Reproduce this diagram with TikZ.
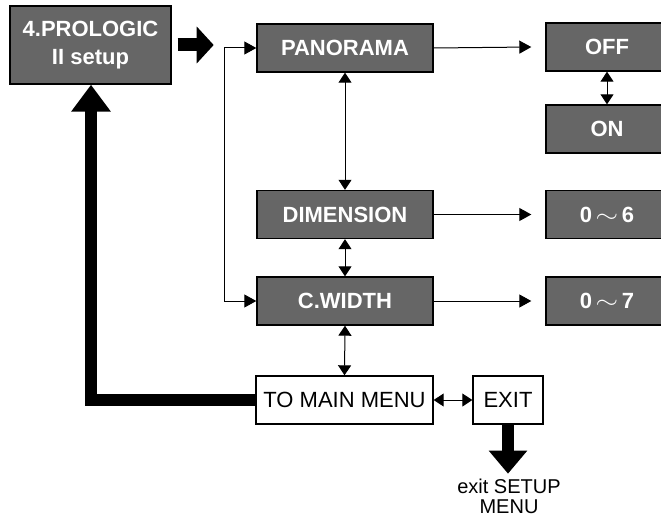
\documentclass[tikz,border=0pt]{standalone}
\usepackage{fontspec}
\setmainfont{Liberation Sans}
\usetikzlibrary{arrows.meta, positioning, calc}
\definecolor{BoxGray}{HTML}{666666}
\newcommand{\wave}{\,\scalebox{1.4}[1.1]{$\sim$}\,}

\begin{document}
\begin{tikzpicture}[
          x=1pt, y=-1pt,
          menubox/.style={draw=black, line width=1.4pt, fill=BoxGray, text=white, inner sep=0pt,
            font=\bfseries\fontsize{22}{28}\selectfont, align=center, minimum width=176pt, minimum height=48pt},
          valbox/.style={menubox, minimum width=122pt},
          plainbox/.style={draw=black, line width=1.4pt, fill=white, inner sep=0pt,
            font=\fontsize{22}{25}\selectfont, minimum height=48pt},
          arr/.style={-{Triangle[length=12pt, width=13pt]}, line width=1pt},
          dbl/.style={{Triangle[length=10pt, width=13pt]}-{Triangle[length=10pt, width=13pt]}, line width=1pt},
          bigarr/.style={line width=13pt, line join=miter}
        ]
          \useasboundingbox (0,0) rectangle (661,519);
          \clip (0,0) rectangle (661,519);

          % main entry
          \node[menubox, minimum width=161pt, minimum height=78pt] (pro) at (90.5,45) {4.PROLOGIC\\II setup};
          \draw[bigarr, -{Triangle[length=17pt, width=36pt]}] ([xshift=6pt]pro.east) -- ++(36,0);

          % menu column
          \node[menubox] (pano) at (345,48) {PANORAMA};
          \node[menubox] (dim) at (345,214.5) {DIMENSION};
          \node[menubox] (cw) at (345,301) {C.WIDTH};
          \draw[dbl] (pano.south) -- (dim.north);
          \draw[dbl] (dim.south) -- (cw.north);

          % feed line
          \coordinate (ftop) at (224,48);
          \coordinate (fbot) at (224,301);
          \draw[arr] (ftop) -- (pano.west);
          \draw[arr] (ftop) -- (fbot) -- (cw.west);

          % value column
          \node[valbox] (off) at (607,47) {OFF};
          \node[valbox] (on) at (607,129) {ON};
          \node[valbox] (r6) at (607,214.5) {0\wave6};
          \node[valbox] (r7) at (607,301) {0\wave7};
          \draw[dbl] (off.south) -- (on.north);
          \draw[arr] (pano.east) -- ([xshift=-14pt]off.west);
          \draw[arr] (dim.east) -- ([xshift=-14pt]r6.west);
          \draw[arr] (cw.east) -- ([xshift=-14pt]r7.west);

          % bottom row
          \node[plainbox, minimum width=177pt] (mainm) at (344.5,400) {TO MAIN MENU};
          \node[plainbox, minimum width=70pt] (exitb) at (508,400) {EXIT};
          \draw[dbl] (cw.south) -- (mainm.north);
          \draw[dbl] (mainm.east) -- (exitb.west);

          % return path and exit
          \coordinate (bend) at (91,400);
          \draw[bigarr, line width=12pt, -{Triangle[length=27pt, width=38pt]}] (mainm.west) -- (bend) -- (bend |- pro.south);
          \node[align=center, font=\fontsize{20}{20}\selectfont, anchor=north, inner sep=0pt] (note) at (509,479) {exit SETUP\\MENU};
          \draw[bigarr, line width=12pt, -{Triangle[length=23pt, width=37pt]}] (exitb.south) -- ([yshift=-49pt]exitb.south);
        \end{tikzpicture}
\end{document}
